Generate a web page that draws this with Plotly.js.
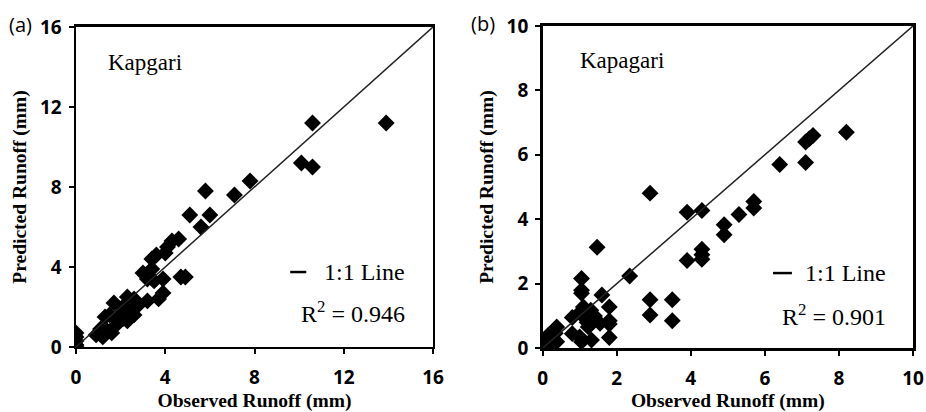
<!DOCTYPE html>
<html><head><meta charset="utf-8">
<script src="https://cdn.plot.ly/plotly-3.0.1.min.js"></script>
<style>html,body{margin:0;padding:0;background:#fff}#chart{width:926px;height:412px}</style>
</head><body><div id="chart"></div>
<script>
// Panel (a) Kapgari
const obsA  = [13.9,10.6,10.1,10.6,7.8,7.1,5.8,6.0,5.1,5.6,4.6,4.3,4.1,4.0,3.6,3.4,3.0,3.4,3.2,3.5,3.9,4.7,4.9,3.9,3.7,3.2,2.8,2.3,2.6,1.7,2.6,2.4,2.0,1.5,2.1,1.8,1.1,1.4,0.9,1.2,1.6,2.1,1.3,0,0,0,0,0,2.3,1.8];
const predA = [11.2,11.2,9.2,9.0,8.3,7.6,7.8,6.6,6.6,6.0,5.4,5.3,5.0,4.7,4.6,4.4,3.7,3.9,3.4,3.3,3.4,3.5,3.5,2.7,2.4,2.3,2.1,2.5,2.4,2.2,1.6,1.8,1.7,1.6,1.4,1.1,0.9,0.8,0.6,0.5,0.7,2.0,1.5,0.7,0.5,0.3,0.1,0,1.3,1.4];
// Panel (b) Kapagari
const obsB  = [8.2,7.3,7.2,7.1,7.1,6.4,5.7,5.7,5.3,4.9,4.9,4.3,4.3,4.3,4.3,3.9,3.9,2.9,2.9,2.9,3.5,3.5,2.35,1.47,1.6,1.05,1.05,1.05,1.8,1.8,1.8,1.8,0.8,0.8,1.1,1.3,1.15,1.4,1.55,1.23,1.0,1.32,1.05,0.38,0.34,0.25,0.38,0.02,0,0.15,0.05,0.1,0.2,1.0,1.2];
const predB = [6.7,6.6,6.5,6.4,5.76,5.7,4.55,4.35,4.15,3.83,3.52,4.27,3.07,2.9,2.76,4.22,2.72,4.81,1.5,1.03,1.5,0.85,2.24,3.13,1.65,2.16,1.8,1.7,1.28,0.85,0.75,0.33,0.95,0.45,1.28,1.18,0.95,1.0,0.77,0.66,0.35,0.25,0.2,0.66,0.46,0.3,0.2,0.25,0.1,0.4,0.05,0.2,0.15,1.1,0.8];
const lineA = [0,16];
const lineB = [0,10];
const ticksA = [0,4,8,12,16];
const ticksB = [0,2,4,6,8,10];

const serif = 'Liberation Serif, Times New Roman, serif';
const sans = 'Open Sans, Liberation Sans, Arial, sans-serif';
const mk = {symbol:'diamond', size:13, color:'#000'};

const traces = [
  {x:obsA, y:predA, mode:'markers', type:'scatter', marker:mk, xaxis:'x', yaxis:'y', showlegend:false},
  {x:lineA, y:lineA, mode:'lines', line:{color:'#222', width:1.5}, xaxis:'x', yaxis:'y', showlegend:false},
  {x:obsB, y:predB, mode:'markers', type:'scatter', marker:mk, xaxis:'x2', yaxis:'y2', showlegend:false},
  {x:lineB, y:lineB, mode:'lines', line:{color:'#222', width:1.5}, xaxis:'x2', yaxis:'y2', showlegend:false}
];

function ax(domain, range, ticks, title, anchor, isX){
  const a = {domain:domain, range:range, tickvals:ticks, ticktext:ticks.map(t=>'<b>'+t+'</b>'), anchor:anchor,
    showline:true, linecolor:'#000', linewidth:2.5, mirror:true, ticks:'outside', ticklen:5, tickwidth:2, tickcolor:'#000',
    showgrid:false, zeroline:false, tickfont:{family:sans, size:19, color:'#000'},
    title:{text:'<b>'+title+'</b>', font:{family:serif, size:19.5, color:'#000'}}};
  if(isX){ a.ticklabelstandoff = 7; a.title.standoff = 4; }
  else { a.title.standoff = 8; a.ticklabelstandoff = 3; }
  return a;
}

const layout = {
  width:926, height:412, paper_bgcolor:'#fff', plot_bgcolor:'#fff',
  margin:{l:0,r:0,t:0,b:0},
  xaxis: ax([0.0821,0.4676],[0,16],ticksA,'Observed Runoff (mm)','y',true),
  yaxis: ax([0.158,0.9345],[0,16],ticksA,'Predicted Runoff (mm)','x',false),
  xaxis2: ax([0.586,0.986],[0,10],ticksB,'Observed Runoff (mm)','y2',true),
  yaxis2: ax([0.155,0.937],[0,10],ticksB,'Predicted Runoff (mm)','x2',false),
  annotations:[
    {text:'(a)', xref:'paper', yref:'paper', x:7/926, y:1-25/412, xanchor:'left', yanchor:'middle', showarrow:false, font:{family:sans, size:20, color:'#000'}},
    {text:'(b)', xref:'paper', yref:'paper', x:469/926, y:1-24/412, xanchor:'left', yanchor:'middle', showarrow:false, font:{family:sans, size:20, color:'#000'}},
    {text:'Kapgari', xref:'x domain', yref:'y domain', x:0.084, y:0.8875, xanchor:'left', yanchor:'middle', showarrow:false, font:{family:serif, size:23, color:'#000'}},
    {text:'Kapagari', xref:'x2 domain', yref:'y2 domain', x:0.095, y:0.894, xanchor:'left', yanchor:'middle', showarrow:false, font:{family:serif, size:23, color:'#000'}},
    {text:'1:1 Line', xref:'x domain', yref:'y domain', x:0.927, y:0.234, xanchor:'right', yanchor:'middle', showarrow:false, font:{family:serif, size:24, color:'#000'}},
    {text:'R<sup>2</sup> = 0.946', xref:'x domain', yref:'y domain', x:0.927, y:0.109, xanchor:'right', yanchor:'middle', showarrow:false, font:{family:serif, size:24, color:'#000'}},
    {text:'1:1 Line', xref:'x2 domain', yref:'y2 domain', x:0.932, y:0.233, xanchor:'right', yanchor:'middle', showarrow:false, font:{family:serif, size:24, color:'#000'}},
    {text:'R<sup>2</sup> = 0.901', xref:'x2 domain', yref:'y2 domain', x:0.932, y:0.102, xanchor:'right', yanchor:'middle', showarrow:false, font:{family:serif, size:24, color:'#000'}}
  ],
  shapes:[
    {type:'line', xref:'x domain', yref:'y domain', x0:0.6, x1:0.645, y0:0.234, y1:0.234, line:{color:'#000', width:2.5}},
    {type:'line', xref:'x2 domain', yref:'y2 domain', x0:0.622, x1:0.673, y0:0.233, y1:0.233, line:{color:'#000', width:2.5}}
  ]
};

Plotly.newPlot('chart', traces, layout, {displayModeBar:false, staticPlot:true});
</script></body></html>
